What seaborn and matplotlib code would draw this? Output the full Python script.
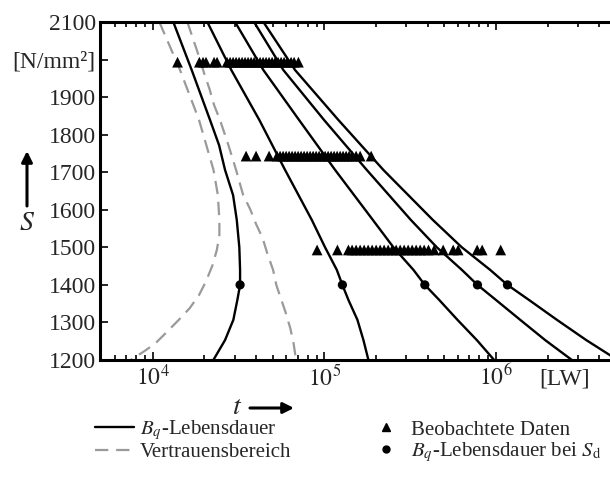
import numpy as np
import pandas as pd
import matplotlib
matplotlib.use("Agg")
import matplotlib.pyplot as plt
from matplotlib.lines import Line2D
import seaborn as sns

# ---------------- data ----------------
# B_q lifetime curve with confidence band (leftmost curve)
S_c1 = [2100, 1972, 1839, 1772, 1706, 1639, 1573, 1500, 1440, 1400, 1360, 1307, 1253, 1200]
c1 = [13180, 16870, 21570, 24350, 26380, 29380, 30870, 31950, 32270, 32270, 31120, 29490,
      26380, 22550]

S_dlo = [2100, 1972, 1839, 1706, 1639, 1573, 1533, 1493, 1453, 1408, 1373, 1338, 1307,
         1277, 1245, 1224, 1200]
d_lo = [10930, 14430, 18610, 22600, 23960, 24450, 24450, 23630, 22330, 20360, 18610,
        16420, 14190, 12230, 10400, 8970, 7440]

S_dhi = [2100, 2022, 1961, 1921, 1879, 1839, 1769, 1706, 1639, 1602, 1562, 1525, 1482,
         1440, 1400, 1362, 1330, 1285, 1245, 1200]
d_hi = [15910, 18170, 20010, 21440, 22770, 24660, 27740, 30590, 33640, 36920, 39990,
        43650, 46620, 50250, 52460, 55940, 59120, 63260, 66100, 68400]

S_levels = [2100, 1972, 1839, 1706, 1573, 1500, 1440, 1400, 1360, 1307, 1253, 1200]
c2 = [20800, 28700, 41800, 59020, 84450, 100900, 118100, 127300, 138000, 155700, 168800, 180500]
c3 = [30170, 44120, 71220, 115500, 191500, 252500, 330100, 384600, 466300, 595700, 772700, 974800]
c4 = [38930, 57680, 99600, 176600, 318800, 451900, 631900, 779000, 997700, 1382000, 1932000, 2765000]
c5 = [44120, 67500, 120700, 220700, 428200, 631900, 923600, 1165000, 1554000, 2261000, 3353000, 5100000]

S_d = 1400
dots_t = [32270, 127300, 384600, 779000, 1165000]

obs_S = [1993, 1743, 1493]
obs_row1 = [13950, 18690, 19640, 20440, 22770, 23700, 27100, 28220, 29380, 30590, 31840,
            33150, 34510, 35930, 37400, 38940, 40540, 42200, 43930, 45740, 47620, 49580,
            51610, 53730, 55940, 58240, 60630, 63970, 66600, 70580]
obs_row2 = [34980, 39990, 47620, 53010, 55190, 57450, 59820, 62280, 64830, 67500, 70270,
            73150, 76160, 79290, 82540, 85930, 89460, 93150, 96980, 100970, 105100, 109400,
            113900, 118600, 123500, 128500, 133800, 139300, 145000, 153000, 161500, 187200]
obs_row3 = [90680, 119100, 138000, 145000, 153000, 161500, 170400, 179800, 189700, 200200,
            211200, 222800, 235100, 248100, 261800, 276300, 291500, 307500, 324500, 342400,
            361300, 381200, 403800, 436000, 491900, 562500, 601500, 776200, 830100, 1064000]

y_ticks = [1200, 1300, 1400, 1500, 1600, 1700, 1800, 1900, 2000, 2100]
y_ticklabels = ["1200", "1300", "1400", "1500", "1600", "1700", "1800", "1900", "[N/mm²]", "2100"]
x_ticks = [1e4, 1e5, 1e6]
x_ticklabels = [r"$10^{4}$", r"$10^{5}$", r"$10^{6}$"]

leg_labels = [r"$B_q$-Lebensdauer", "Vertrauensbereich",
              "Beobachtete Daten", r"$B_q$-Lebensdauer bei $S_\mathrm{d}$"]

# ---------------- style ----------------
sns.set_style("ticks")
plt.rcParams["font.family"] = ["Liberation Serif", "DejaVu Serif"]
plt.rcParams["mathtext.fontset"] = "stix"
plt.rcParams["font.size"] = 17

W, H = 610, 484
fig = plt.figure(figsize=(W / 100, H / 100), dpi=100)
ax = fig.add_axes([100 / W, 1 - 360 / H, 1 - 100 / W, (360 - 22) / H])

# dashed confidence bounds
gray = "#9a9a9a"
for t_vals, s_vals in ((d_lo, S_dlo), (d_hi, S_dhi)):
    sns.lineplot(x=t_vals, y=s_vals, sort=False, estimator=None, color=gray, lw=1.6, ax=ax)
    ax.lines[-1].set_dashes([6, 3.5])

# solid B_q curves
sns.lineplot(x=c1, y=S_c1, sort=False, estimator=None, color="black", lw=1.7, ax=ax)
for c in (c2, c3, c4, c5):
    sns.lineplot(x=c, y=S_levels, sort=False, estimator=None, color="black", lw=1.7, ax=ax)

# observed data
obs_df = pd.DataFrame({
    "t": obs_row1 + obs_row2 + obs_row3,
    "S": [obs_S[0]] * len(obs_row1) + [obs_S[1]] * len(obs_row2) + [obs_S[2]] * len(obs_row3),
})
sns.scatterplot(data=obs_df, x="t", y="S", marker="^", s=60, color="black",
                edgecolor="none", ax=ax, zorder=4)

# dots at S_d
sns.scatterplot(x=dots_t, y=[S_d] * len(dots_t), marker="o", s=44, color="black",
                edgecolor="none", ax=ax, zorder=5)

ax.set_xscale("log")
ax.set_xlim(4930, 4.61e6)
ax.set_ylim(1200, 2100)
ax.set_xlabel("")
ax.set_ylabel("")

ax.set_yticks(y_ticks)
ax.set_yticklabels(y_ticklabels)
ax.set_xticks(x_ticks)
ax.set_xticklabels(x_ticklabels)

ax.tick_params(axis="both", which="both", direction="in", top=True, right=False,
               width=1.2, color="black", labelsize=17)
ax.tick_params(axis="x", which="major", length=6, pad=3)
ax.tick_params(axis="x", which="minor", length=3.5)
ax.tick_params(axis="y", which="major", length=6, pad=3)

for side in ("left", "top", "bottom"):
    ax.spines[side].set_linewidth(2.2)
    ax.spines[side].set_color("black")
ax.spines["right"].set_visible(False)

# unit label on x axis
fig.text(565 / W, 1 - 379 / H, "[LW]", ha="center", va="center", fontsize=17)

# axis symbols with arrows
fig.text(27 / W, 1 - 224 / H, "$S$", ha="center", va="center", fontsize=20)
ax.annotate("", xy=(27, H - 151), xytext=(27, H - 206), xycoords="figure pixels",
            textcoords="figure pixels",
            arrowprops=dict(arrowstyle="-|>", lw=2.2, color="black", mutation_scale=16,
                            shrinkA=0, shrinkB=0), annotation_clip=False)
fig.text(237 / W, 1 - 408 / H, "$t$", ha="center", va="center", fontsize=20)
ax.annotate("", xy=(294, H - 408), xytext=(250, H - 408), xycoords="figure pixels",
            textcoords="figure pixels",
            arrowprops=dict(arrowstyle="-|>", lw=2.2, color="black", mutation_scale=16,
                            shrinkA=0, shrinkB=0), annotation_clip=False)

# legend
handles = [
    Line2D([], [], color="black", lw=1.7),
    Line2D([], [], color=gray, lw=1.6, dashes=[6, 3.5]),
    Line2D([], [], color="black", marker="^", ls="none", markersize=6),
    Line2D([], [], color="black", marker="o", ls="none", markersize=5),
]
fig.legend(handles, leg_labels, ncol=2, loc="center left",
           bbox_to_anchor=(95 / W, 1 - 441 / H), frameon=False, fontsize=15,
           handlelength=1.85, handletextpad=0.3, columnspacing=3.6,
           labelspacing=0.0, borderaxespad=0, borderpad=0)

fig.savefig("out.png", dpi=100)
